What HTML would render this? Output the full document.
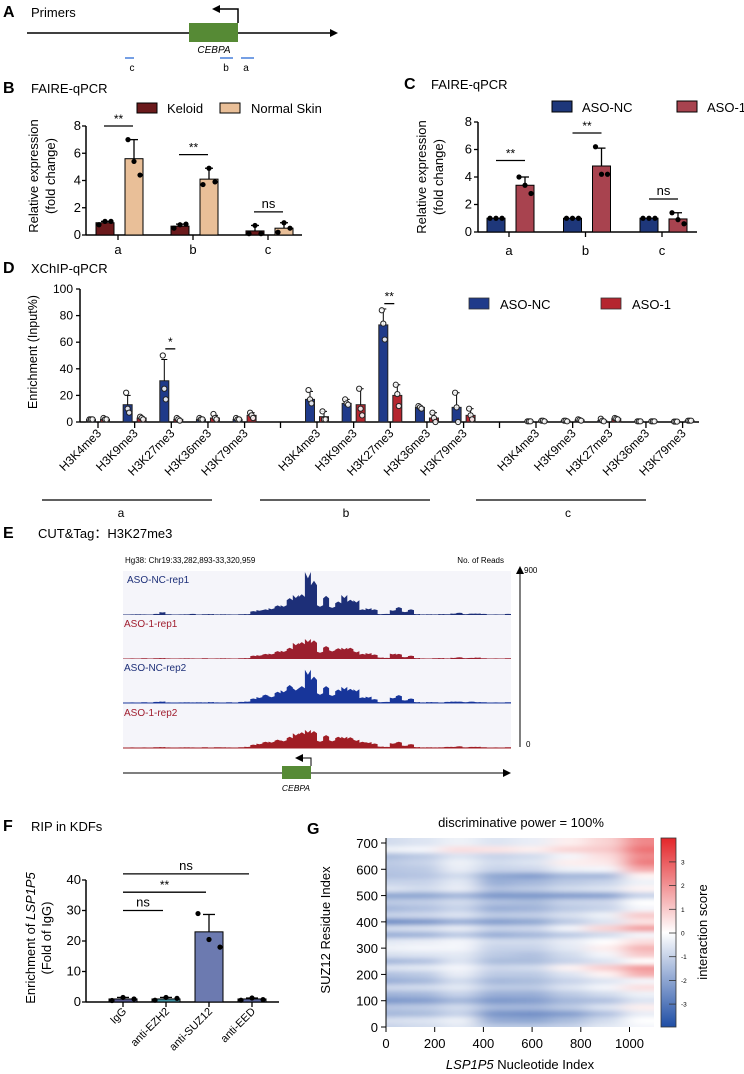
<!DOCTYPE html>
<html><head><meta charset="utf-8">
<style>
html,body{margin:0;padding:0;background:#fff;}
svg{display:block;font-family:"Liberation Sans","Noto Sans CJK SC",sans-serif;}
</style></head>
<body>
<svg id="fig" width="744" height="1074" viewBox="0 0 744 1074" xmlns="http://www.w3.org/2000/svg">
<defs>
<marker id="arr" markerWidth="8" markerHeight="8" refX="6" refY="4" orient="auto" markerUnits="userSpaceOnUse"><path d="M0,0 L8,4 L0,8 z" fill="#000"/></marker>
<filter id="blurH" x="-10%" y="-10%" width="120%" height="120%"><feGaussianBlur stdDeviation="10 2"/></filter>
<clipPath id="hmClip"><rect x="386" y="838" width="268" height="189"/></clipPath>
<linearGradient id="cbar" x1="0" y1="0" x2="0" y2="1">
<stop offset="0" stop-color="#e3262a"/><stop offset="0.5" stop-color="#ffffff"/><stop offset="1" stop-color="#1f4ea5"/>
</linearGradient>
</defs>

<!-- Panel A -->
<g>
<text x="3" y="17" font-size="16" font-weight="bold">A</text>
<text x="31" y="17" font-size="13">Primers</text>
<line x1="27" y1="33" x2="336" y2="33" stroke="#000" stroke-width="1.5" marker-end="url(#arr)"/>
<rect x="189" y="23" width="49" height="19" fill="#568a35"/>
<polyline points="238,23 238,9 214,9" fill="none" stroke="#000" stroke-width="1.5" marker-end="url(#arr)"/>
<text x="214" y="53" font-size="10" font-style="italic" text-anchor="middle">CEBPA</text>
<line x1="125" y1="58" x2="134" y2="58" stroke="#2b6bd6" stroke-width="1.3"/>
<line x1="220" y1="58" x2="233" y2="58" stroke="#2b6bd6" stroke-width="1.3"/>
<line x1="241" y1="58" x2="254" y2="58" stroke="#2b6bd6" stroke-width="1.3"/>
<text x="132" y="71" font-size="10" text-anchor="middle">c</text>
<text x="226" y="71" font-size="10" text-anchor="middle">b</text>
<text x="246" y="71" font-size="10" text-anchor="middle">a</text>
</g>

<!-- Panel B static -->
<g id="pB">
<text x="3" y="93" font-size="16" font-weight="bold">B</text>
<text x="31" y="93" font-size="13">FAIRE-qPCR</text>
<rect x="137" y="103" width="20" height="10" fill="#6b1a1c" stroke="#000" stroke-width="1"/>
<text x="167" y="113" font-size="13">Keloid</text>
<rect x="220" y="103" width="20" height="10" fill="#e9bf98" stroke="#000" stroke-width="1"/>
<text x="251" y="113" font-size="13">Normal Skin</text>
<text transform="translate(38,176) rotate(-90)" font-size="13" text-anchor="middle">Relative expression</text>
<text transform="translate(55,176) rotate(-90)" font-size="13" text-anchor="middle">(fold change)</text>
</g>

<!-- Panel C static -->
<g id="pC">
<text x="404" y="89" font-size="16" font-weight="bold">C</text>
<text x="431" y="89" font-size="13">FAIRE-qPCR</text>
<rect x="552" y="101" width="20" height="11" fill="#1e377a" stroke="#000" stroke-width="1"/>
<text x="582" y="112" font-size="13">ASO-NC</text>
<rect x="677" y="101" width="20" height="11" fill="#a8434f" stroke="#000" stroke-width="1"/>
<text x="707" y="112" font-size="13">ASO-1</text>
<text transform="translate(426,177) rotate(-90)" font-size="13" text-anchor="middle">Relative expression</text>
<text transform="translate(443,177) rotate(-90)" font-size="13" text-anchor="middle">(fold change)</text>
</g>

<!-- Panel D static -->
<g id="pD">
<text x="3" y="273" font-size="16" font-weight="bold">D</text>
<text x="31" y="273" font-size="13">XChIP-qPCR</text>
<rect x="469" y="298" width="20" height="11" fill="#1f3a8a" stroke="#333" stroke-width="0.8"/>
<text x="500" y="309" font-size="13">ASO-NC</text>
<rect x="601" y="298" width="20" height="11" fill="#b5262f" stroke="#333" stroke-width="0.8"/>
<text x="632" y="309" font-size="13">ASO-1</text>
<text transform="translate(37,352) rotate(-90)" font-size="12.5" text-anchor="middle">Enrichment (Input%)</text>
<line x1="42" y1="500" x2="212" y2="500" stroke="#000" stroke-width="1.3"/>
<line x1="260" y1="500" x2="430" y2="500" stroke="#000" stroke-width="1.3"/>
<line x1="476" y1="500" x2="646" y2="500" stroke="#000" stroke-width="1.3"/>
<text x="121" y="517" font-size="12" text-anchor="middle">a</text>
<text x="346" y="517" font-size="12" text-anchor="middle">b</text>
<text x="568" y="517" font-size="12" text-anchor="middle">c</text>
</g>

<!-- Panel E static -->
<g id="pE">
<text x="3" y="538" font-size="16" font-weight="bold">E</text>
<text x="38" y="538" font-size="13">CUT&amp;Tag：H3K27me3</text>
<text x="125" y="563" font-size="8">Hg38: Chr19:33,282,893-33,320,959</text>
<text x="504" y="563" font-size="8" text-anchor="end">No. of Reads</text>
<line x1="520" y1="747" x2="520" y2="568" stroke="#000" stroke-width="1" marker-end="url(#arr)"/>
<text x="524" y="573" font-size="8">900</text>
<text x="526" y="747" font-size="8">0</text>
<line x1="123" y1="773" x2="509" y2="773" stroke="#333" stroke-width="1.2" marker-end="url(#arr)"/>
<rect x="282" y="766" width="29" height="13" fill="#568a35"/>
<polyline points="311,766 311,758 297,758" fill="none" stroke="#000" stroke-width="1" marker-end="url(#arr)"/>
<text x="296" y="791" font-size="8.5" font-style="italic" text-anchor="middle">CEBPA</text>
</g>

<!-- Panel F static -->
<g id="pF">
<text x="3" y="831" font-size="16" font-weight="bold">F</text>
<text x="31" y="831" font-size="13">RIP in KDFs</text>
<text transform="translate(35,938) rotate(-90)" font-size="13" text-anchor="middle">Enrichment of <tspan font-style="italic">LSP1P5</tspan></text>
<text transform="translate(51,938) rotate(-90)" font-size="13" text-anchor="middle">(Fold of IgG)</text>
</g>

<!-- Panel G static -->
<g id="pG">
<text x="307" y="834" font-size="16" font-weight="bold">G</text>
<text x="521" y="827" font-size="13" text-anchor="middle">discriminative power = 100%</text>
<text transform="translate(330,930) rotate(-90)" font-size="13" text-anchor="middle">SUZ12 Residue Index</text>
<text x="520" y="1069" font-size="13" text-anchor="middle"><tspan font-style="italic">LSP1P5</tspan> Nucleotide Index</text>
<rect x="661" y="838" width="15" height="189" fill="url(#cbar)" stroke="#333" stroke-width="0.8"/>
<text transform="translate(707,932) rotate(-90)" font-size="13" text-anchor="middle">interaction score</text>
</g>
</svg>

<script>
// ===== Panel B data =====
const bGroups = ['a','b','c'];
const bYTicks = [0,2,4,6,8];
const bKeloid = [0.9,0.65,0.3];
const bKeloidErr = [1.0,0.8,0.7];
const bKeloidDots = [[0.75,1.0,1.0],[0.5,0.75,0.8],[0.1,0.7,0.1]];
const bNormal = [5.6,4.1,0.5];
const bNormalErr = [7.0,4.9,0.9];
const bNormalDots = [[7.0,5.4,4.4],[3.7,4.9,3.9],[0.2,0.9,0.5]];
const bSigLabels = ['**','**','ns'];
const bSigLevels = [8.0,5.9,1.7];

// ===== Panel C data =====
const cGroups = ['a','b','c'];
const cYTicks = [0,2,4,6,8];
const cNC = [1.0,1.0,1.0];
const cNCDots = [[1,1,1],[1,1,1],[1,1,1]];
const cASO = [3.4,4.8,0.95];
const cASOErr = [4.0,6.1,1.4];
const cASODots = [[4.0,3.4,2.8],[6.2,4.2,4.2],[1.4,0.9,0.6]];
const cSigLabels = ['**','**','ns'];
const cSigLevels = [5.2,7.2,2.4];

// ===== Panel D data =====
const dGroups = ['a','b','c'];
const dMarks = ['H3K4me3','H3K9me3','H3K27me3','H3K36me3','H3K79me3'];
const dYTicks = [0,20,40,60,80,100];
const dNC = [[2,13,31,2,2],[17,14,73,11,11],[0.5,0.8,1,0.5,0.3]];
const dNCErr = [[3,20,47,3,3],[23,17,85,12,22],[1,1,2,0.6,0.4]];
const dNCDots = [[[2,2,2],[22,10,7],[50,25,17],[3,2,2],[3,2,2]],[[24,17,14],[17,14,13],[84,74,62],[12,11,10],[22,11,0]],[[0.5,0.5,0.5],[1,1,0.5],[2.5,1,0.5],[0.5,0.5,0.5],[0.3,0.3,0.3]]];
const dASO = [[2,3,2,3,5],[4,13,20,3,5],[0.8,1.5,2.5,0.5,1]];
const dASOErr = [[3,4,3,5,7],[8,25,28,7,10],[1.2,2,3,0.6,1.2]];
const dASODots = [[[3,2,2],[4,3,2],[3,2,1],[6,3,2],[7,5,3]],[[8,2,2],[25,10,5],[28,21,12],[7,3,0],[10,5,2]],[[1,1,0.5],[2,1.5,1],[3,2.5,2],[0.5,0.5,0.5],[1,1,1]]];

// ===== Panel E data (reads per bin) =====
const eTrackNames = ['ASO-NC-rep1','ASO-1-rep1','ASO-NC-rep2','ASO-1-rep2'];
const eNC1 = [10,10,15,10,10,20,60,15,10,10,15,20,10,15,20,10,15,10,10,15,20,70,100,100,140,170,200,300,410,370,880,610,200,340,170,240,410,270,300,100,140,100,20,20,100,140,70,100,20,10,15,10,20,15,30,40,20,25,30,20,10,10,10,20];
const eASO1 = [10,10,10,15,10,15,20,10,5,10,15,10,10,15,10,10,15,10,10,15,20,60,80,90,110,140,170,200,330,300,410,330,150,230,180,190,230,200,160,90,120,80,30,20,110,90,40,60,20,10,10,15,20,10,25,30,20,20,30,15,10,10,10,15];
const eNC2 = [10,10,10,15,10,20,30,10,10,10,15,10,15,10,20,10,10,15,10,20,30,80,120,150,140,200,260,320,300,300,680,470,200,300,170,240,330,250,280,100,130,70,20,20,110,140,60,80,20,10,20,15,10,20,30,25,20,25,20,15,10,10,10,15];
const eASO2 = [10,10,10,10,10,15,20,10,10,10,15,10,10,15,10,15,15,10,10,15,25,60,90,110,130,150,160,200,300,280,370,300,150,230,160,200,230,190,170,110,120,80,30,20,100,110,50,70,20,10,15,10,15,20,25,30,15,20,25,15,10,10,10,15];

// ===== Panel F data =====
const fCats = ['IgG','anti-EZH2','anti-SUZ12','anti-EED'];
const fYTicks = [0,10,20,30,40];
const fVals = [1.0,1.0,23.0,1.0];
const fErr = [1.5,1.5,28.7,1.3];
const fDots = [[0.5,1.5,1.0],[0.6,1.5,1.2],[29,20.5,18],[0.6,1.3,0.8]];
const fSigLabels = ['ns','**','ns'];
const fSigTargets = [1,2,3];
const fSigLevels = [30,36,42];

// ===== Panel G data =====
const gXTicks = [0,200,400,600,800,1000];
const gYTicks = [0,100,200,300,400,500,600,700];
const gCbTicks = [3,2,1,0,-1,-2,-3];
const gCols = [0,150,300,450,600,750,900,1050];
const gRows = [700,675,650,625,600,575,550,525,500,475,450,425,400,375,350,325,300,275,250,225,200,175,150,125,100,75,50,25,0];
const gScores = [
[-0.8,-0.6,-0.3,-0.6,-0.4,0.3,0.8,2.2],
[-0.3,-0.2,0.6,0.5,0.3,0.8,1.0,2.6],
[-1.5,-1.2,-0.6,-1.0,-0.8,-0.2,0.6,2.2],
[-1.2,-1.0,-0.3,-0.8,-0.6,0.3,0.4,2.4],
[-1.3,-1.2,-0.4,-1.0,-0.9,-0.3,-0.2,1.6],
[-1.4,-1.3,-0.8,-2.0,-2.2,-1.6,-1.6,0.2],
[-1.0,-1.0,-0.5,-1.8,-1.6,-1.2,-1.0,-0.3],
[-0.6,-0.8,-0.4,-1.4,-1.2,-0.8,-0.6,0.2],
[-2.0,-2.0,-1.6,-2.3,-2.3,-2.2,-2.1,-1.0],
[-1.2,-1.1,-0.8,-1.4,-1.5,-1.0,-0.9,0.0],
[-1.6,-1.4,-1.0,-1.8,-1.7,-1.2,-1.0,-0.2],
[-1.0,-0.9,-0.6,-1.2,-1.1,-0.7,-0.3,1.0],
[-2.6,-2.4,-1.8,-2.2,-2.0,-1.2,-0.6,0.5],
[-0.8,-0.7,-0.4,-1.0,-0.9,-0.2,0.8,1.8],
[-1.8,-1.7,-1.2,-1.8,-1.6,-1.2,-0.8,-0.2],
[-0.5,-0.4,-0.2,-0.8,-0.8,-0.4,0.0,0.6],
[-0.3,-0.2,-0.2,-1.0,-1.0,-0.5,0.3,1.4],
[-0.7,-0.6,-0.5,-1.2,-1.4,-0.8,-0.2,1.0],
[-1.6,-1.4,-0.6,-1.5,-1.5,-1.0,-0.6,0.0],
[-0.6,-0.5,-0.2,-0.9,-0.8,0.2,0.9,1.9],
[-1.4,-1.2,-0.4,-1.2,-1.2,-0.6,0.2,1.5],
[-1.8,-1.6,-0.8,-1.6,-1.5,-1.0,-0.6,-0.2],
[-0.9,-0.8,-0.5,-1.2,-1.2,-0.6,-0.2,0.6],
[-1.7,-1.6,-1.0,-1.8,-1.8,-1.2,-0.8,-0.3],
[-2.3,-2.2,-1.6,-2.3,-2.2,-1.6,-1.4,-0.6],
[-1.3,-1.2,-0.8,-1.6,-1.6,-1.2,-0.6,0.3],
[-1.6,-1.5,-1.0,-2.4,-2.5,-2.2,-1.4,-0.4],
[-0.7,-0.6,-0.3,-1.9,-2.0,-1.5,-0.8,0.0],
[-1.0,-0.8,-0.5,-1.2,-1.2,-1.0,-0.5,-0.2]
];

const NS = 'http://www.w3.org/2000/svg';
const svg = document.getElementById('fig');
function mk(tag, attrs, parent){
  const e = document.createElementNS(NS, tag);
  for (const k in attrs) e.setAttribute(k, attrs[k]);
  (parent || svg).appendChild(e);
  return e;
}

function drawAxisY(g, x, yScale, ticks, x2, fs, labelX){
  let e = mk('line',{x1:x,y1:yScale(ticks[ticks.length-1]),x2:x,y2:yScale(ticks[0]),stroke:'#000','stroke-width':1.5},g);
  
  
  e = mk('line',{x1:x,y1:yScale(ticks[0]),x2:x2,y2:yScale(ticks[0]),stroke:'#000','stroke-width':1.5},g);
  
  
  ticks.forEach(t=>{
    const tl = mk('line',{x1:x-4,y1:yScale(t),x2:x,y2:yScale(t),stroke:'#000','stroke-width':1.3},g);
    
    
    const tx = mk('text',{x:labelX,y:yScale(t)+4,'font-size':fs,'text-anchor':'end'},g);
    
    
    tx.textContent = t;
  });
}
function drawBar(g, cx, w, v, yScale, fill, stroke, name){
  const b = mk('rect',{x:cx-w/2,y:yScale(v),width:w,height:Math.max(0.5,yScale(0)-yScale(v)),fill:fill,stroke:stroke,'stroke-width':1},g);
  
  
}
function drawErr(g, cx, v, err, yScale, cap, sw){
  const l = mk('line',{x1:cx,y1:yScale(v),x2:cx,y2:yScale(err),stroke:'#000','stroke-width':sw},g);
  
  
  const c = mk('line',{x1:cx-cap,y1:yScale(err),x2:cx+cap,y2:yScale(err),stroke:'#000','stroke-width':sw},g);
  
  
}
function drawDots(g, cx, spread, dots, yScale, r, open){
  dots.forEach((d,i)=>{
    const c = mk('circle',{cx:cx+(i-1)*spread,cy:yScale(d),r:r,fill:open?'#fff':'#000',stroke:open?'#222':'none','stroke-width':open?1:0,'fill-opacity':open?0.85:1},g);
    
    
  });
}
function drawSig(g, x1, x2, y, label, fs){
  const l = mk('line',{x1:x1,y1:y,x2:x2,y2:y,stroke:'#000','stroke-width':1.3},g);
  
  
  const t = mk('text',{x:(x1+x2)/2,y:label==='ns'?y-4:y-3,'font-size':label==='ns'?fs:fs-1,'text-anchor':'middle'},g);
  
  
  t.textContent = label;
}

// ---------- Panel B ----------
(function(){
  const g = document.getElementById('pB');
  const yB = v => 235 - v*(109/8);
  const xB = i => 118 + i*75;
  drawAxisY(g, 86, yB, bYTicks, 302, 13, 81);
  bGroups.forEach((name,i)=>{
    const t = mk('line',{x1:xB(i),y1:235,x2:xB(i),y2:240,stroke:'#000','stroke-width':1.3},g);
    
    
    const l = mk('text',{x:xB(i),y:254,'font-size':13,'text-anchor':'middle'},g);
    
    
    l.textContent = name;
    drawBar(g, xB(i)-13, 18, bKeloid[i], yB, '#6b1a1c', '#000', 'bar-keloid');
    drawErr(g, xB(i)-13, bKeloid[i], bKeloidErr[i], yB, 4, 1.3);
    drawDots(g, xB(i)-13, 6, bKeloidDots[i], yB, 2.6, false);
    drawBar(g, xB(i)+16, 18, bNormal[i], yB, '#e9bf98', '#000', 'bar-normal-skin');
    drawErr(g, xB(i)+16, bNormal[i], bNormalErr[i], yB, 4, 1.3);
    drawDots(g, xB(i)+16, 6, bNormalDots[i], yB, 2.6, false);
    drawSig(g, xB(i)-14, xB(i)+15, yB(bSigLevels[i]), bSigLabels[i], 13);
  });
})();

// ---------- Panel C ----------
(function(){
  const g = document.getElementById('pC');
  const yC = v => 232 - v*(110/8);
  const xC = i => 509 + i*76.5;
  drawAxisY(g, 478, yC, cYTicks, 697, 13, 472);
  cGroups.forEach((name,i)=>{
    const t = mk('line',{x1:xC(i),y1:232,x2:xC(i),y2:237,stroke:'#000','stroke-width':1.3},g);
    
    
    const l = mk('text',{x:xC(i),y:255,'font-size':13,'text-anchor':'middle'},g);
    
    
    l.textContent = name;
    drawBar(g, xC(i)-13, 18, cNC[i], yC, '#1e377a', '#000', 'bar-aso-nc');
    drawDots(g, xC(i)-13, 6, cNCDots[i], yC, 2.6, false);
    drawBar(g, xC(i)+16, 18, cASO[i], yC, '#a8434f', '#000', 'bar-aso-1');
    drawErr(g, xC(i)+16, cASO[i], cASOErr[i], yC, 4, 1.3);
    drawDots(g, xC(i)+16, 6, cASODots[i], yC, 2.6, false);
    drawSig(g, xC(i)-13, xC(i)+16, yC(cSigLevels[i]), cSigLabels[i], 13);
  });
})();

// ---------- Panel D ----------
(function(){
  const g = document.getElementById('pD');
  const yD = v => 422 - v*1.33;
  const xD = (gi,m) => 98 + gi*219 + m*36.65;
  drawAxisY(g, 80, yD, dYTicks, 699, 12, 73);
  [1,2].forEach(gi=>{
    const t = mk('line',{x1:xD(gi,0)-36.5,y1:422,x2:xD(gi,0)-36.5,y2:428,stroke:'#000','stroke-width':1.3},g);
    
    
  });
  dGroups.forEach((gn,gi)=>{
    dMarks.forEach((mn,m)=>{
      const cx = xD(gi,m);
      const t = mk('line',{x1:cx,y1:422,x2:cx,y2:428,stroke:'#000','stroke-width':1.3},g);
      
      
      const l = mk('text',{x:0,y:0,'font-size':12,'text-anchor':'end',transform:'translate('+(cx+4)+',434) rotate(-45)'},g);
      
      
      l.textContent = mn;
      drawBar(g, cx-7, 9, dNC[gi][m], yD, '#1f3a8a', '#222', 'bar-aso-nc');
      drawErr(g, cx-7, dNC[gi][m], dNCErr[gi][m], yD, 3, 1);
      drawDots(g, cx-7, 1.5, dNCDots[gi][m], yD, 2.6, true);
      drawBar(g, cx+7, 9, dASO[gi][m], yD, '#b5262f', '#222', 'bar-aso-1');
      drawErr(g, cx+7, dASO[gi][m], dASOErr[gi][m], yD, 3, 1);
      drawDots(g, cx+7, 1.5, dASODots[gi][m], yD, 2.6, true);
    });
  });
  drawSig(g, xD(0,2)-6, xD(0,2)+4, yD(55), '*', 13);
  drawSig(g, xD(1,2)-6, xD(1,2)+4, yD(89), '**', 13);
})();

// ---------- Panel E ----------
(function(){
  const g = document.getElementById('pE');
  const x0 = 123, x1 = 511, nb = eNC1.length, bw = (x1-x0)/nb;
  const tracks = [eNC1,eASO1,eNC2,eASO2];
  const baselines = [615,659,703,748];
  const colors = ['#1d2f78','#9b1f2e','#17359a','#a01d24'];
  const labelColors = ['#1d2f78','#a01d2e','#1d2f78','#a01d2e'];
  const hScale = 44/900;
  tracks.forEach((arr,ti)=>{
    const bl = baselines[ti];
    const bg = mk('rect',{x:x0,y:bl-44,width:x1-x0,height:44,fill:'#f5f5fa'},g);
    
    
    let d = 'M'+x0+','+bl;
    arr.forEach((v,i)=>{
      const xa = x0+i*bw, xb = x0+(i+1)*bw, y = bl - v*hScale;
      d += ' L'+xa.toFixed(1)+','+y.toFixed(1)+' L'+(xa+bw*0.5).toFixed(1)+','+(y-(i%2?1:-1)*v*hScale*0.15).toFixed(1)+' L'+xb.toFixed(1)+','+y.toFixed(1);
    });
    d += ' L'+x1+','+bl+' Z';
    const p = mk('path',{d:d,fill:colors[ti]},g);
    
    
    const base = mk('line',{x1:x0,y1:bl,x2:x1,y2:bl,stroke:colors[ti],'stroke-width':1},g);
    
    
    const t = mk('text',{x:ti===0?127:124,y:bl-32,'font-size':10,fill:labelColors[ti]},g);
    
    
    t.textContent = eTrackNames[ti];
  });
})();

// ---------- Panel F ----------
(function(){
  const g = document.getElementById('pF');
  const yF = v => 1002 - v*(122/40);
  const xF = i => 123 + i*43;
  const fills = ['#55578f','#3f8fa0','#6c7ab0','#5a66a0'];
  drawAxisY(g, 86, yF, fYTicks, 279, 13, 81);
  fCats.forEach((c,i)=>{
    const t = mk('line',{x1:xF(i),y1:1002,x2:xF(i),y2:1007,stroke:'#000','stroke-width':1.3},g);
    
    
    const l = mk('text',{x:0,y:0,'font-size':11,'text-anchor':'end',transform:'translate('+(xF(i)+4)+',1012) rotate(-45)'},g);
    
    
    l.textContent = c;
    drawBar(g, xF(i), 28, fVals[i], yF, fills[i], '#000', 'bar-'+c.toLowerCase());
    drawErr(g, xF(i), fVals[i], fErr[i], yF, 6, 1.3);
    drawDots(g, xF(i), 11, fDots[i], yF, 2.6, false);
  });
  fSigTargets.forEach((tg,k)=>{
    drawSig(g, xF(0), xF(tg)-3, yF(fSigLevels[k]), fSigLabels[k], 13);
  });
})();

// ---------- Panel G ----------
(function(){
  const g = document.getElementById('pG');
  const xG = v => 386 + v*0.2435;
  const yG = v => 1027 - v*(184/700);
  function color(s){
    const t = Math.max(-1, Math.min(1, s/4));
    let r,gg,b;
    if (t>=0){ r=255+(227-255)*t; gg=255+(38-255)*t; b=255+(42-255)*t; }
    else { const u=-t; r=255+(31-255)*u; gg=255+(78-255)*u; b=255+(165-255)*u; }
    return 'rgb('+Math.round(r)+','+Math.round(gg)+','+Math.round(b)+')';
  }
  const clip = mk('g',{'clip-path':'url(#hmClip)'},g);
  
  
  const blurG = mk('g',{filter:'url(#blurH)'},clip);
  gRows.forEach((rv,ri)=>{
    gCols.forEach((cv,ci)=>{
      let xa = xG(cv-75), xb = xG(cv+75);
      if (ci===0) xa -= 40;
      if (ci===gCols.length-1) xb += 40;
      let ya = yG(rv+12.5), yb = yG(rv-12.5);
      if (ri===0) ya -= 15;
      if (ri===gRows.length-1) yb += 15;
      const c = mk('rect',{x:xa.toFixed(1),y:ya.toFixed(1),width:(xb-xa+0.6).toFixed(1),height:(yb-ya+0.6).toFixed(1),fill:color(gScores[ri][ci])},blurG);
      
      
    });
  });
  let e = mk('line',{x1:386,y1:838,x2:386,y2:1028,stroke:'#000','stroke-width':1},g);
  
  
  gYTicks.forEach(t=>{
    const tl = mk('line',{x1:381,y1:yG(t),x2:386,y2:yG(t),stroke:'#000','stroke-width':1},g);
    
    
    const tx = mk('text',{x:378,y:yG(t)+5,'font-size':13,'text-anchor':'end'},g);
    
    
    tx.textContent = t;
  });
  gXTicks.forEach(t=>{
    const tl = mk('line',{x1:xG(t),y1:1027,x2:xG(t),y2:1032,stroke:'#000','stroke-width':1},g);
    
    
    const tx = mk('text',{x:xG(t),y:1048,'font-size':13,'text-anchor':'middle'},g);
    
    
    tx.textContent = t;
  });
  const yCb = v => 933 - v*23.7;
  gCbTicks.forEach(t=>{
    const tl = mk('line',{x1:669,y1:yCb(t),x2:676,y2:yCb(t),stroke:'#333','stroke-width':0.8},g);
    
    
    const tx = mk('text',{x:681,y:yCb(t)+2.5,'font-size':6.5},g);
    
    
    tx.textContent = t;
  });
})();
</script>
</body></html>
